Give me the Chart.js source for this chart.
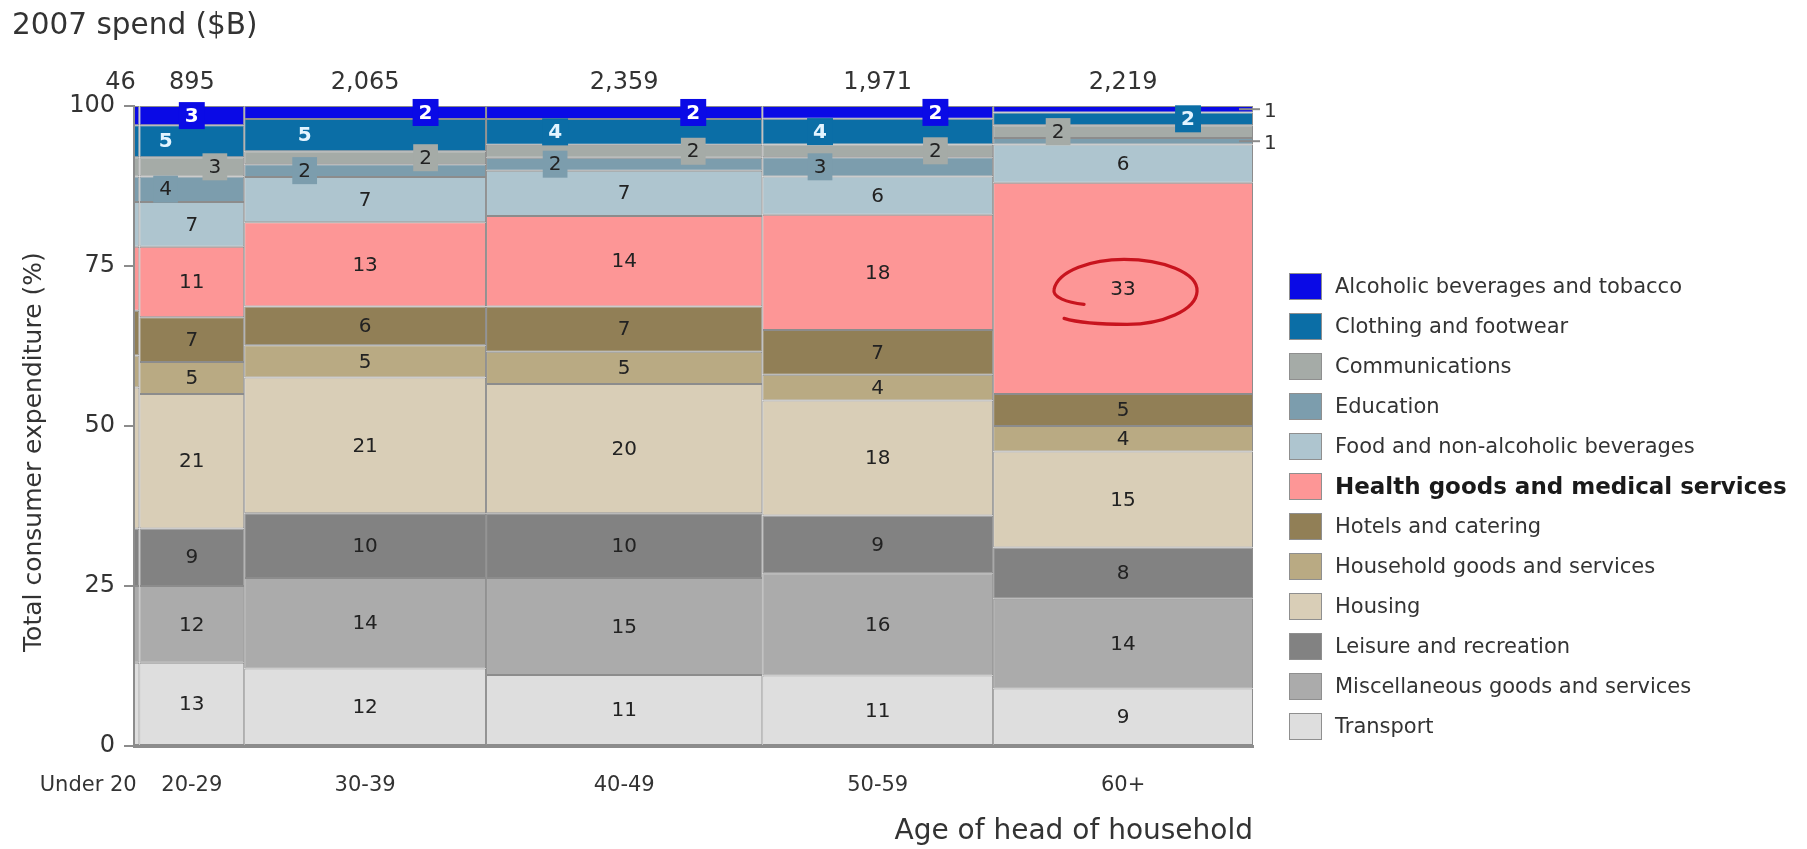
<!DOCTYPE html>
<html>
<head>
<meta charset="utf-8">
<title>Consumer expenditure by age of head of household</title>
<script src="https://cdn.jsdelivr.net/npm/chart.js@4.4.1/dist/chart.umd.min.js"></script>
<style>
  html, body { margin: 0; padding: 0; background: #ffffff; }
  #wrap { position: relative; width: 1807px; height: 849px; }
  #legend { position: absolute; left: 1289px; top: 266px; font-family: 'DejaVu Sans', sans-serif; color: #333333; }
  .item { display: flex; align-items: center; height: 40px; }
  .sw { width: 33px; height: 27px; box-sizing: border-box; border: 1px solid #8f8f8f; margin-right: 13px; flex: none; }
  .txt { font-size: 21px; white-space: nowrap; }
  .txt.hl { font-weight: bold; font-size: 23px; color: #1a1a1a; }
</style>
</head>
<body>
<div id="wrap">
  <canvas id="chart" width="1807" height="849"></canvas>
  <div id="legend"></div>
</div>
<script>
// Age of head of household (one column each)
const ageGroups = ['Under 20', '20-29', '30-39', '40-49', '50-59', '60+'];
// 2007 spend per age group, $B (sets each column's width)
const spend = [46, 895, 2065, 2359, 1971, 2219];
// Spending categories, bottom of the stack first
const categories = [
  'Transport',
  'Miscellaneous goods and services',
  'Leisure and recreation',
  'Housing',
  'Household goods and services',
  'Hotels and catering',
  'Health goods and medical services',
  'Food and non-alcoholic beverages',
  'Education',
  'Communications',
  'Clothing and footwear',
  'Alcoholic beverages and tobacco'
];
// Share of each age group's spend, % (same order as ageGroups)
const transport      = [13, 13, 12, 11, 11, 9];
const miscellaneous  = [12, 12, 14, 15, 16, 14];
const leisure        = [9, 9, 10, 10, 9, 8];
const housing        = [22, 21, 21, 20, 18, 15];
const householdGoods = [5, 5, 5, 5, 4, 4];
const hotels         = [7, 7, 6, 7, 7, 5];
const health         = [10, 11, 13, 14, 18, 33];
const food           = [7, 7, 7, 7, 6, 6];
const education      = [4, 4, 2, 2, 3, 1];
const communications = [3, 3, 2, 2, 2, 2];
const clothing       = [5, 5, 5, 4, 4, 2];
const alcohol        = [3, 3, 2, 2, 2, 1];
// Value-axis ticks
const yTicks = [0, 25, 50, 75, 100];

const series = [transport, miscellaneous, leisure, housing, householdGoods, hotels,
                health, food, education, communications, clothing, alcohol];

const palette = {
  'Transport': '#dedede',
  'Miscellaneous goods and services': '#ababab',
  'Leisure and recreation': '#828282',
  'Housing': '#d9ceb7',
  'Household goods and services': '#b9aa83',
  'Hotels and catering': '#917f56',
  'Health goods and medical services': '#fd9696',
  'Food and non-alcoholic beverages': '#aec5cf',
  'Education': '#7c9dad',
  'Communications': '#a5aba7',
  'Clothing and footwear': '#0b6ea6',
  'Alcoholic beverages and tobacco': '#0a0ae6'
};
const HIGHLIGHT = 'Health goods and medical services';
const Y_TITLE = 'Total consumer expenditure (%)';
// Thin categories at the top of the stack, labelled on a tab of their own colour
const TABBED = ['Alcoholic beverages and tobacco', 'Clothing and footwear', 'Communications', 'Education'];

// Column extents along the spend axis
const starts = [];
let running = 0;
spend.forEach(v => { starts.push(running); running += v; });
const totalSpend = running;
const centers = spend.map((v, i) => starts[i] + v / 2);
const columnSums = ageGroups.map((_, i) => series.reduce((s, arr) => s + arr[i], 0));

// Bar controller whose bar widths follow each column's spend on the x scale
class MekkoController extends Chart.BarController {
  _calculateBarIndexPixels(index) {
    const iScale = this._cachedMeta.iScale;
    const x = this.getParsed(index).x;
    const half = spend[index] / 2;
    const a = iScale.getPixelForValue(x - half);
    const b = iScale.getPixelForValue(x + half);
    return { base: a, head: b, center: (a + b) / 2, size: b - a };
  }
}
MekkoController.id = 'mekko';
MekkoController.defaults = Object.assign({}, Chart.BarController.defaults);
MekkoController.overrides = Chart.BarController.overrides;
Chart.register(MekkoController);

Chart.defaults.font.family = "'DejaVu Sans', sans-serif";
Chart.defaults.color = '#333333';

const TITLE_FONT = 29.5, TITLE_PAD_TOP = 9;
const titleBlock = TITLE_PAD_TOP + TITLE_FONT * 1.2;
const PAD_LEFT = 12;

// Where the small top-of-stack labels sit across a column (fraction of its width)
function labelShift(cat, col) {
  const last = col === ageGroups.length - 1;
  if (last) {
    if (cat === 'Alcoholic beverages and tobacco' || cat === 'Education') return 'outside';
    if (cat === 'Clothing and footwear') return 0.25;
    if (cat === 'Communications') return -0.25;
    return 0;
  }
  if (cat === 'Alcoholic beverages and tobacco') return col === 1 ? 0 : 0.25;
  if (cat === 'Communications') return col === 1 ? 0.22 : 0.25;
  if (cat === 'Clothing and footwear' || cat === 'Education') return -0.25;
  return 0;
}

const segmentLabels = {
  id: 'segmentLabels',
  afterDatasetsDraw(chart) {
    const ctx = chart.ctx;
    ctx.save();
    chart.data.datasets.forEach((ds, k) => {
      const meta = chart.getDatasetMeta(k);
      meta.data.forEach((el, col) => {
        if (col === 0) return;            // the narrow first column is left unlabelled
        const value = ds.raw[col];
        const right = el.x + el.width / 2;
        const cy = (el.y + el.base) / 2;
        const shift = labelShift(ds.label, col);
        const txt = String(value);
        if (shift === 'outside') {
          ctx.strokeStyle = '#8a8a8a';
          ctx.lineWidth = 2;
          ctx.beginPath();
          ctx.moveTo(right - 14, cy);
          ctx.lineTo(right + 7, cy);
          ctx.stroke();
          ctx.font = "20px 'DejaVu Sans'";
          ctx.fillStyle = '#333333';
          ctx.textAlign = 'left';
          ctx.textBaseline = 'middle';
          ctx.fillText(txt, right + 11, cy + 3);
          return;
        }
        const lx = el.x + shift * el.width;
        const isAlc = ds.label === 'Alcoholic beverages and tobacco';
        const isCloth = ds.label === 'Clothing and footwear';
        ctx.font = (isAlc || isCloth ? 'bold ' : '') + "20px 'DejaVu Sans'";
        const tw = ctx.measureText(txt).width;
        const boxH = 27, boxW = tw + 12;
        if (TABBED.includes(ds.label) && Math.abs(el.base - el.y) < boxH) {
          ctx.fillStyle = ds.backgroundColor;
          ctx.fillRect(lx - boxW / 2, cy - boxH / 2, boxW, boxH);
        }
        ctx.fillStyle = isAlc ? '#ffffff' : (isCloth ? '#e3f4ff' : '#222222');
        ctx.textAlign = 'center';
        ctx.textBaseline = 'middle';
        ctx.fillText(txt, lx, cy + 1);
      });
    });
    ctx.restore();
  }
};

// Hand-drawn loop around the largest health share
const highlightRing = {
  id: 'highlightRing',
  afterDatasetsDraw(chart) {
    const k = categories.indexOf(HIGHLIGHT);
    const col = ageGroups.length - 1;
    const el = chart.getDatasetMeta(k).data[col];
    const cx = el.x - 1, cy = (el.y + el.base) / 2 + 4;
    const ctx = chart.ctx;
    ctx.save();
    ctx.strokeStyle = '#c8141e';
    ctx.lineWidth = 3.2;
    ctx.lineCap = 'round';
    ctx.beginPath();
    ctx.moveTo(cx - 38, cy + 12);
    ctx.bezierCurveTo(cx - 55, cy + 10, cx - 70, cy + 5, cx - 68, cy - 3);
    ctx.bezierCurveTo(cx - 64, cy - 22, cx - 30, cy - 33, cx + 2, cy - 33);
    ctx.bezierCurveTo(cx + 40, cy - 33, cx + 76, cy - 20, cx + 75, cy - 1);
    ctx.bezierCurveTo(cx + 74, cy + 18, cx + 40, cy + 32, cx + 5, cy + 32);
    ctx.bezierCurveTo(cx - 20, cy + 32, cx - 45, cy + 30, cx - 58, cy + 26);
    ctx.stroke();
    ctx.restore();
  }
};

// Tick labels for the narrow first column, set flush right so they clear the next column,
// and the value-axis title, centred on the plot plus its category labels
const axisExtras = {
  id: 'axisExtras',
  afterDraw(chart) {
    const ctx = chart.ctx;
    const xb = chart.scales.x, xt = chart.scales.xTop;
    const px = xb.getPixelForValue(centers[0]);
    ctx.save();
    ctx.textAlign = 'right';
    ctx.textBaseline = 'middle';
    ctx.fillStyle = '#333333';
    const fb = Chart.helpers.toFont(xb.options.ticks.font);
    ctx.font = fb.string;
    const tickMid = xb.top + xb.options.ticks.padding + fb.lineHeight / 2;
    ctx.fillText(ageGroups[0], px, tickMid);
    const ft = Chart.helpers.toFont(xt.options.ticks.font);
    ctx.font = ft.string;
    ctx.fillText(spend[0].toLocaleString('en-US'), px - 1, xt.bottom - xt.options.ticks.padding - ft.lineHeight / 2);

    const yMid = (chart.chartArea.top + tickMid + fb.lineHeight / 2) / 2;
    ctx.translate(PAD_LEFT + 22, yMid);
    ctx.rotate(-Math.PI / 2);
    ctx.textAlign = 'center';
    ctx.font = "25px 'DejaVu Sans'";
    ctx.fillText(Y_TITLE, 0, 0);
    ctx.restore();
  }
};

const chart = new Chart(document.getElementById('chart'), {
  type: 'mekko',
  data: {
    datasets: categories.map((name, k) => ({
      label: name,
      raw: series[k],
      xAxisID: 'x',
      yAxisID: 'y',
      data: series[k].map((v, i) => ({ x: centers[i], y: v / columnSums[i] * 100 })),
      backgroundColor: palette[name],
      borderColor: '#8c8c8c',
      borderWidth: 1,
      borderSkipped: false
    }))
  },
  options: {
    responsive: false,
    animation: false,
    devicePixelRatio: 1,
    events: [],
    layout: { padding: { left: PAD_LEFT, right: 554, top: 0, bottom: 0 } },
    plugins: {
      legend: { display: false },
      tooltip: { enabled: false },
      title: {
        display: true,
        text: '2007 spend ($B)',
        align: 'start',
        color: '#333333',
        font: { size: TITLE_FONT, weight: 'normal', lineHeight: 1.2 },
        padding: { top: TITLE_PAD_TOP, bottom: 0 }
      }
    },
    scales: {
      x: {
        type: 'linear',
        position: 'bottom',
        min: 0,
        max: totalSpend,
        offset: false,
        stacked: true,
        grid: { display: false, drawTicks: false, offset: false },
        border: { display: true, color: '#8c8c8c', width: 3 },
        afterBuildTicks: s => { s.ticks = centers.slice(1).map(v => ({ value: v })); },
        afterFit: s => { s.height = 103; },
        ticks: {
          autoSkip: false, maxRotation: 0, padding: 27,
          font: { size: 21 }, color: '#333333',
          callback: (v, i) => ageGroups[i + 1]
        },
        title: {
          display: true, text: 'Age of head of household', align: 'end',
          font: { size: 28 }, color: '#333333', padding: { top: 13, bottom: 0 }
        }
      },
      xTop: {
        type: 'linear',
        position: 'top',
        min: 0,
        max: totalSpend,
        offset: false,
        grid: { display: false, drawTicks: false },
        border: { display: false },
        afterBuildTicks: s => { s.ticks = centers.slice(1).map(v => ({ value: v })); },
        afterFit: s => { s.height = 106 - titleBlock; },
        ticks: {
          autoSkip: false, maxRotation: 0, padding: 9,
          font: { size: 24 }, color: '#333333',
          callback: (v, i) => spend[i + 1].toLocaleString('en-US')
        }
      },
      y: {
        type: 'linear',
        position: 'left',
        min: 0,
        max: 100,
        stacked: true,
        afterBuildTicks: s => { s.ticks = yTicks.map(v => ({ value: v })); },
        afterFit: s => { s.width = 134 - PAD_LEFT; },
        grid: { display: true, drawOnChartArea: false, drawTicks: true, tickLength: 10, color: '#8c8c8c', lineWidth: 2 },
        border: { display: true, color: '#8c8c8c', width: 2 },
        ticks: { padding: 9, font: { size: 24 }, color: '#333333' },
        title: { display: false }
      }
    }
  },
  plugins: [segmentLabels, highlightRing, axisExtras]
});

// Legend, listed from the top of the stack down
const legend = document.getElementById('legend');
categories.slice().reverse().forEach(name => {
  const row = document.createElement('div');
  row.className = 'item';
  const sw = document.createElement('div');
  sw.className = 'sw';
  sw.style.background = palette[name];
  const t = document.createElement('div');
  t.className = 'txt' + (name === HIGHLIGHT ? ' hl' : '');
  t.textContent = name;
  row.appendChild(sw);
  row.appendChild(t);
  legend.appendChild(row);
});
</script>
</body>
</html>
